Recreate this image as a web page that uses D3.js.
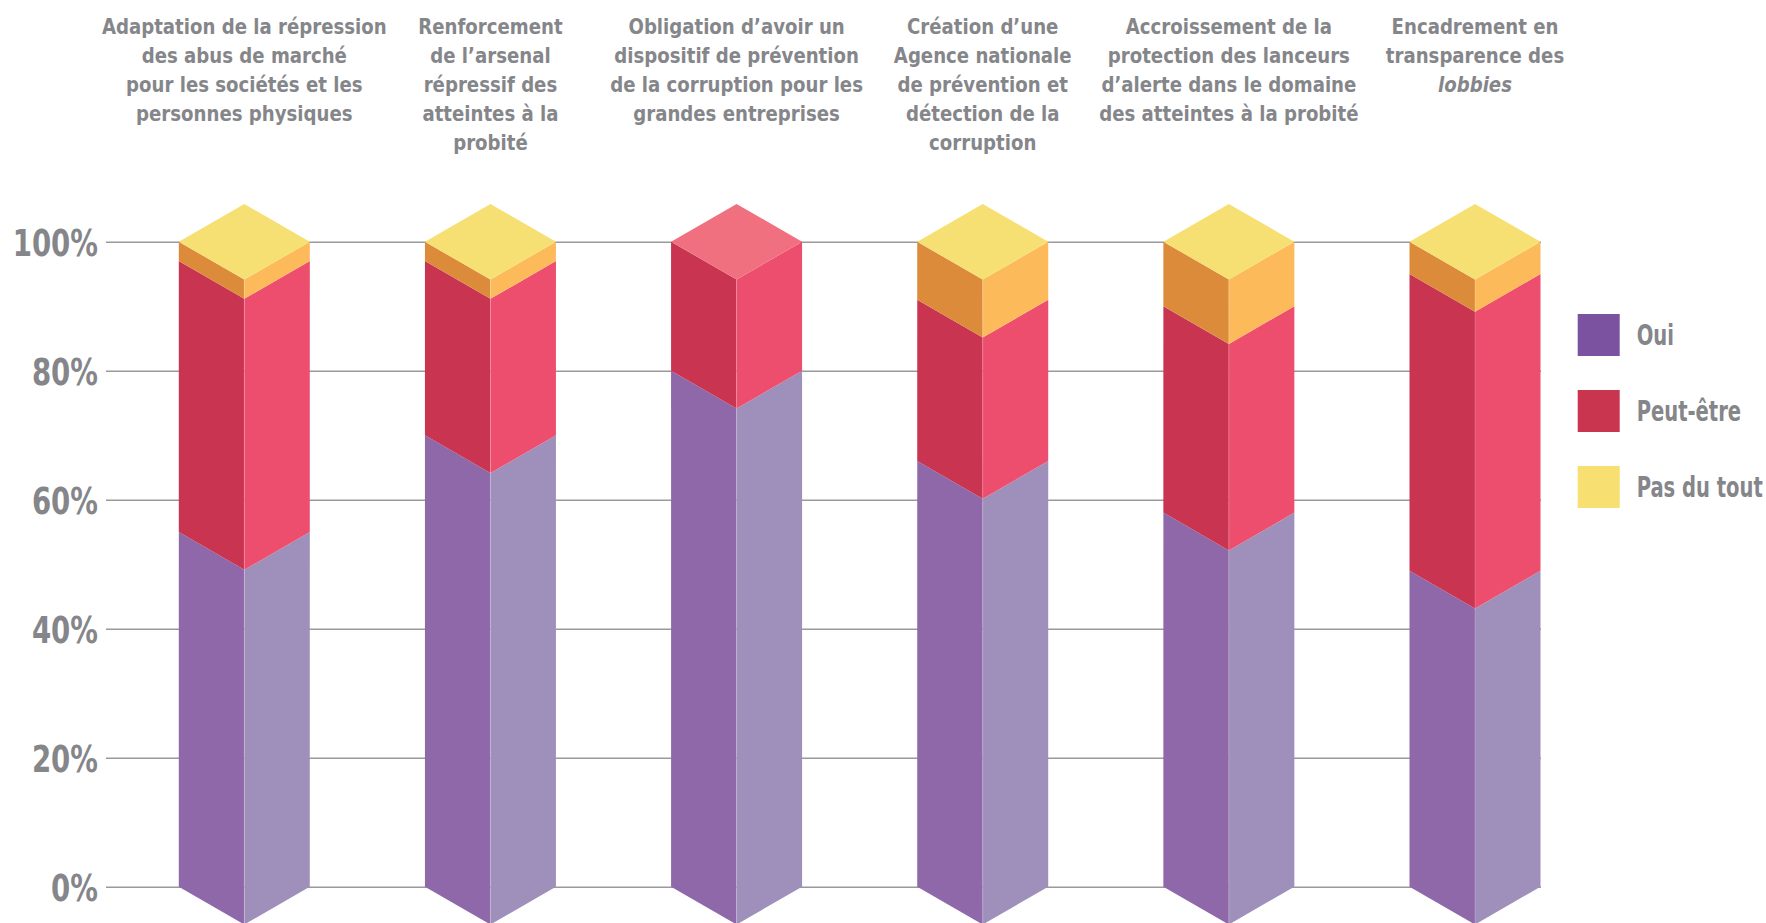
<!DOCTYPE html>
<html>
<head>
<meta charset="utf-8">
<script src="https://cdn.jsdelivr.net/npm/d3@7"></script>
<style>
  html, body { margin: 0; padding: 0; background: #ffffff; }
  svg { display: block; }
  text { font-family: "DejaVu Sans Condensed", "DejaVu Sans", sans-serif; font-stretch: condensed; font-weight: bold; fill: #85868a; }
</style>
</head>
<body>
<svg id="chart" width="1766" height="923"></svg>
<script>
// ---------- data ----------
const categories = [
  "Adaptation de la répression|des abus de marché|pour les sociétés et les|personnes physiques",
  "Renforcement|de l’arsenal|répressif des|atteintes à la|probité",
  "Obligation d’avoir un|dispositif de prévention|de la corruption pour les|grandes entreprises",
  "Création d’une|Agence nationale|de prévention et|détection de la|corruption",
  "Accroissement de la|protection des lanceurs|d’alerte dans le domaine|des atteintes à la probité",
  "Encadrement en|transparence des|*lobbies"
];
const oui        = [55, 70, 80, 66, 58, 49];
const peutEtre   = [42, 27, 20, 25, 32, 46];
const pasDuTout  = [3, 3, 0, 9, 10, 5];
const seriesNames = ["Oui", "Peut-être", "Pas du tout"];
const yTicks = [0, 20, 40, 60, 80, 100];

// ---------- styles ----------
const colors = {
  "Oui":         { left: "#8f68a9", right: "#9f90bb", top: "#b6a6d0", legend: "#7b52a0" },
  "Peut-être":   { left: "#c93451", right: "#ee4e6d", top: "#f07080", legend: "#c9344f" },
  "Pas du tout": { left: "#db8b3a", right: "#fdba5b", top: "#f7e073", legend: "#f7df72" }
};

const svg = d3.select("#chart");
const y = d3.scaleLinear().domain([0, 100]).range([886.7, 241.7]);
const x = d3.scalePoint().domain(d3.range(categories.length)).range([244.3, 1475]);
const half = 65.5;
const depth = half * Math.tan(Math.PI / 6);

// ---------- axis & gridlines ----------
const axisLeft = 106, gridRight = 1541;
const axisSX = 0.83;
const axisG = svg.append("g")
  .attr("transform", `translate(${axisLeft},0)`)
  .call(d3.axisLeft(y).tickValues(yTicks).tickFormat(d => d + "%")
    .tickSize(-(gridRight - axisLeft)).tickPadding(8));
axisG.select(".domain").remove();
axisG.attr("font-family", null).attr("font-size", null);
axisG.selectAll(".tick line").attr("stroke", "#9a9a9a").attr("stroke-width", 1.6);
axisG.selectAll(".tick text")
  .attr("font-size", 37).attr("dy", "0.37em")
  .attr("fill", null)
  .attr("x", -8 / axisSX)
  .attr("transform", `scale(${axisSX},1)`);

// ---------- bars ----------
const rows = categories.map((c, i) => {
  const vals = [oui[i], peutEtre[i], pasDuTout[i]];
  let acc = 0;
  const segs = vals.map((v, k) => {
    const s = { name: seriesNames[k], y0: acc, y1: acc + v, v };
    acc += v;
    return s;
  }).filter(s => s.v > 0);
  return { i, segs };
});

const barG = svg.append("g");
rows.forEach(r => {
  const C = x(r.i), L = C - half, R = C + half;
  const g = barG.append("g");
  g.selectAll("path.left").data(r.segs).join("path")
    .attr("d", s => `M${L},${y(s.y1)}L${C},${y(s.y1) + depth}L${C},${y(s.y0) + depth}L${L},${y(s.y0)}Z`)
    .attr("fill", s => colors[s.name].left);
  g.selectAll("path.right").data(r.segs).join("path")
    .attr("d", s => `M${C},${y(s.y1) + depth}L${R},${y(s.y1)}L${R},${y(s.y0)}L${C},${y(s.y0) + depth}Z`)
    .attr("fill", s => colors[s.name].right);
  const topSeg = r.segs[r.segs.length - 1];
  const yt = y(topSeg.y1);
  g.append("path")
    .attr("d", `M${L},${yt}L${C},${yt - depth}L${R},${yt}L${C},${yt + depth}Z`)
    .attr("fill", colors[topSeg.name].top);
  g.append("line")
    .attr("x1", C).attr("x2", C).attr("y1", yt + depth).attr("y2", y(0) + depth)
    .attr("stroke", "rgba(255,255,255,0.25)").attr("stroke-width", 0.8);
});

// ---------- category labels ----------
const lineH = 29;
const labSX = 0.96;
categories.forEach((c, i) => {
  const t = svg.append("g")
    .attr("transform", `translate(${x(i)},0) scale(${labSX},1)`)
    .append("text")
    .attr("text-anchor", "middle")
    .attr("font-size", 21);
  c.split("|").forEach((ln, j) => {
    const italic = ln.startsWith("*");
    t.append("tspan")
      .attr("x", 0)
      .attr("y", 34 + j * lineH)
      .attr("font-style", italic ? "italic" : null)
      .text(italic ? ln.slice(1) : ln);
  });
});

// ---------- legend ----------
const legY = d3.scalePoint().domain(seriesNames).range([335, 487]);
const legSX = 0.79;
const leg = svg.append("g");
seriesNames.forEach(n => {
  leg.append("rect")
    .attr("x", 1577.7).attr("y", legY(n) - 21)
    .attr("width", 42).attr("height", 42)
    .attr("fill", colors[n].legend);
  leg.append("g")
    .attr("transform", `translate(1636.7,${legY(n) + 10}) scale(${legSX},1)`)
    .append("text")
    .attr("font-size", 27.5)
    .text(n);
});
</script>
</body>
</html>
